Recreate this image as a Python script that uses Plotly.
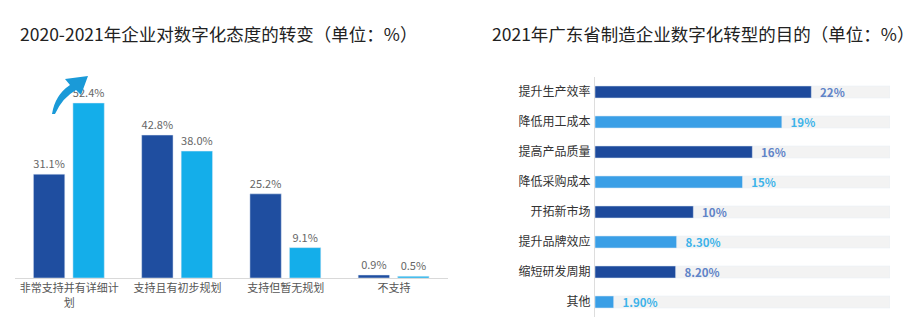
import plotly.graph_objects as go

W, H = 922, 324
FONT = "Noto Sans CJK SC, Noto Sans, sans-serif"

# Left chart: attitude towards digitalisation, 2020 vs 2021
attitude_cats = ["非常支持并有详细计<br>划", "支持且有初步规划", "支持但暂无规划", "不支持"]
attitude_2020 = [31.1, 42.8, 25.2, 0.9]
attitude_2021 = [52.4, 38.0, 9.1, 0.5]

# Right chart: purposes of digital transformation, 2021
purpose_cats = ["提升生产效率", "降低用工成本", "提高产品质量", "降低采购成本",
                "开拓新市场", "提升品牌效应", "缩短研发周期", "其他"]
purpose_vals = [22, 19, 16, 15, 10, 8.3, 8.2, 1.9]
purpose_text = ["22%", "19%", "16%", "15%", "10%", "8.30%", "8.20%", "1.90%"]
track_max = 30

DARK_L, LIGHT_L = "#1f4ea0", "#14aeea"
DARK_R, LIGHT_R = "#1d4a9c", "#3a9fe6"


def px(x):
    return x / W


def py(y):
    return 1 - y / H


fig = go.Figure()

fig.add_trace(go.Bar(
    x=attitude_cats, y=attitude_2020, marker_color=DARK_L,
    width=0.29, offset=-0.33,
    text=[f"{v:.1f}%" for v in attitude_2020], textposition="outside",
    textfont=dict(size=11, color="#666666", family=FONT),
    constraintext="none",
    xaxis="x", yaxis="y", cliponaxis=False, showlegend=False,
))
fig.add_trace(go.Bar(
    x=attitude_cats, y=attitude_2021, marker_color=LIGHT_L,
    width=0.29, offset=0.035,
    text=[f"{v:.1f}%" for v in attitude_2021], textposition="outside",
    textfont=dict(size=11, color="#666666", family=FONT),
    constraintext="none",
    xaxis="x", yaxis="y", cliponaxis=False, showlegend=False,
))

# grey background tracks
fig.add_trace(go.Bar(
    y=purpose_cats, x=[track_max] * len(purpose_cats), orientation="h",
    marker_color="#f3f3f3", width=0.4, hoverinfo="skip",
    xaxis="x2", yaxis="y2", showlegend=False,
))
bar_cols = [DARK_R if i % 2 == 0 else LIGHT_R for i in range(len(purpose_vals))]
txt_cols = ["#5f84c8" if i % 2 == 0 else "#3db3ea" for i in range(len(purpose_vals))]
fig.add_trace(go.Bar(
    y=purpose_cats, x=purpose_vals, orientation="h",
    marker_color=bar_cols, width=0.4,
    text=purpose_text, texttemplate="\u2002%{text}",
    textposition="outside", constraintext="none",
    textfont=dict(size=11.5, color=txt_cols, family=FONT, weight="bold"),
    xaxis="x2", yaxis="y2", cliponaxis=False, showlegend=False,
))

# curved arrow over the first group
pts = [("M", 52, 114), ("Q", 55, 95, 70, 85), ("L", 65, 79), ("L", 88, 76),
       ("L", 81, 95), ("L", 76, 90), ("Q", 62, 98, 55, 114)]
path = ""
for p in pts:
    cmd, coords = p[0], p[1:]
    xy = []
    for i in range(0, len(coords), 2):
        xy.append(f"{px(coords[i]):.5f},{py(coords[i + 1]):.5f}")
    path += cmd + " " + " ".join(xy) + " "
path += "Z"

fig.update_layout(
    width=W, height=H,
    margin=dict(l=0, r=0, t=0, b=0),
    paper_bgcolor="white", plot_bgcolor="white",
    barmode="overlay",
    font=dict(family=FONT, color="#333333"),
    xaxis=dict(domain=[px(15), px(448)], type="category",
               showline=True, linecolor="#d9d9d9", linewidth=1,
               showgrid=False, ticks="", tickfont=dict(size=11, color="#555555"),
               fixedrange=True),
    yaxis=dict(domain=[py(278), py(60)], range=[0, 218 / 3.34],
               visible=False, showgrid=False, fixedrange=True),
    xaxis2=dict(domain=[px(595), px(890)], range=[0, track_max],
                visible=False, showgrid=False, anchor="y2"),
    yaxis2=dict(domain=[py(317), py(77)], type="category", autorange="reversed",
                anchor="x2", showline=True, linecolor="#dddddd", linewidth=1,
                showgrid=False, ticks="", ticklabelstandoff=1,
                tickfont=dict(size=12, color="#333333")),
    shapes=[dict(type="path", path=path, xref="paper", yref="paper",
                 fillcolor="#1a9ad8", line=dict(width=0))],
    annotations=[
        dict(text="2020-2021年企业对数字化态度的转变（单位：%）",
             x=px(18), y=py(33), xref="paper", yref="paper",
             xanchor="left", yanchor="middle", showarrow=False,
             font=dict(size=17.5, color="#222222", family=FONT)),
        dict(text="2021年广东省制造企业数字化转型的目的（单位：%）",
             x=px(490), y=py(33), xref="paper", yref="paper",
             xanchor="left", yanchor="middle", showarrow=False,
             font=dict(size=17.5, color="#222222", family=FONT)),
    ],
)

fig.write_html("out.html")
